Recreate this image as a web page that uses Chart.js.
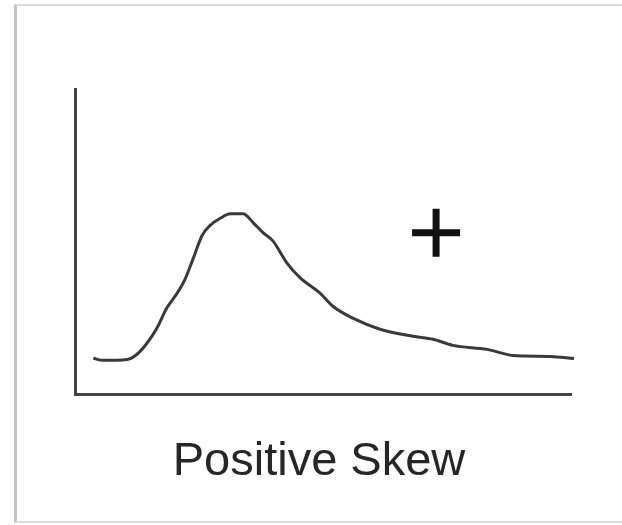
<!DOCTYPE html>
<html>
<head>
<meta charset="utf-8">
<script src="https://cdn.jsdelivr.net/npm/chart.js@4/dist/chart.umd.min.js"></script>
<style>
  html, body { margin: 0; padding: 0; background: #fff; }
  #wrap { position: relative; width: 622px; height: 525px; overflow: hidden; }
  #frame {
    position: absolute; left: 14px; top: 4px; width: 640px; height: 515px;
    border-left: 3px solid #c4c4c4; border-top: 2px solid #dcdcdc; border-bottom: 2px solid #dcdcdc;
  }
  #skew { position: absolute; left: 0; top: 0; }
</style>
</head>
<body>
<div id="wrap">
  <div id="frame"></div>
  <canvas id="skew" width="622" height="525"></canvas>
</div>
<script>
// curve (x, density), on a 0-100 grid
const curveX = [3.7, 5.6, 10.5, 12.5, 14.5, 16.5, 18.5, 20.6, 22.2, 23.8, 25.6, 27.2, 29.2, 31.3,
                33.9, 35.9, 37.9, 39.9, 42.7, 45.4, 49.4, 52.0, 56.0, 61.5, 68.1, 72.2, 76.2,
                83.1, 88.3, 95.8, 100.6];
const curveY = [11.9, 11.2, 11.5, 13.2, 16.8, 21.7, 28.3, 33.2, 37.8, 44.4, 52.0, 55.3, 57.6, 59.2,
                59.2, 56.3, 53.0, 50.3, 43.1, 38.2, 33.2, 28.9, 25.0, 21.4, 19.1, 18.1, 16.1,
                14.8, 12.8, 12.5, 11.8];
const signX = [72.8];
const signY = [53.0];
const chartTitle = 'Positive Skew';

function toPoints(xs, ys) {
  return xs.map((x, i) => ({x: x, y: ys[i]}));
}

new Chart(document.getElementById('skew'), {
  type: 'line',
  data: {
    datasets: [
      {
        label: 'density',
        data: toPoints(curveX, curveY),
        borderColor: '#3a3a3a',
        borderWidth: 3,
        cubicInterpolationMode: 'monotone',
        pointRadius: 0,
        fill: false,
        clip: false
      },
      {
        label: 'sign',
        type: 'scatter',
        data: toPoints(signX, signY),
        pointStyle: 'cross',
        pointRadius: 24,
        borderColor: '#111',
        borderWidth: 7,
        clip: false
      }
    ]
  },
  options: {
    responsive: false,
    animation: false,
    layout: { padding: { left: 67, right: 51, top: 89, bottom: 0 } },
    plugins: {
      legend: { display: false },
      tooltip: { enabled: false },
      title: {
        display: true,
        position: 'bottom',
        text: chartTitle,
        color: '#262626',
        font: { family: 'Liberation Sans, Arial, sans-serif', size: 47, weight: 'normal' },
        padding: { top: 31, bottom: 35 }
      }
    },
    scales: {
      x: {
        type: 'linear', min: 0, max: 100,
        grid: { display: false },
        ticks: { display: false },
        border: { display: true, color: '#444', width: 3 }
      },
      y: {
        type: 'linear', min: 0, max: 100,
        grid: { display: false },
        ticks: { display: false },
        border: { display: true, color: '#444', width: 3 }
      }
    }
  }
});
</script>
</body>
</html>
